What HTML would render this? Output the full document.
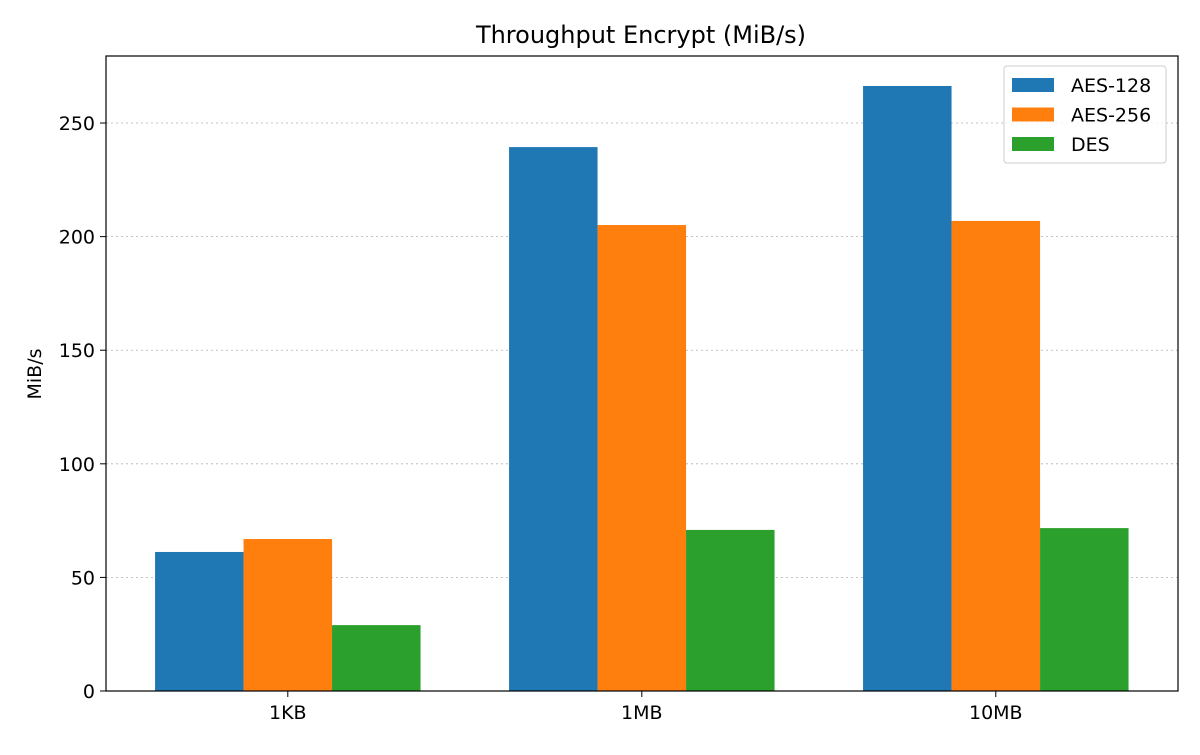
<!DOCTYPE html>
<html><head><meta charset="utf-8"><style>
body{margin:0;background:#fff;font-family:"Liberation Sans","DejaVu Sans",sans-serif}
</style></head><body>
<svg id="chart" width="1200" height="750" xmlns="http://www.w3.org/2000/svg">
<text x="641" y="43" font-size="24" text-anchor="middle" font-family="DejaVu Sans, Liberation Sans, sans-serif">Throughput Encrypt (MiB/s)</text>
<text transform="translate(41,374) rotate(-90)" font-size="19" text-anchor="middle" font-family="DejaVu Sans, Liberation Sans, sans-serif">MiB/s</text>
<g id="grid"></g><g id="bars"></g><g id="axes"></g>
</svg>
<script>
const categories=["1KB","1MB","10MB"];
const seriesNames=["AES-128","AES-256","DES"];
const aes128=[61.2,239.4,266.3];
const aes256=[66.9,205.1,206.9];
const des=[29.0,70.9,71.7];
const yTicks=[0,50,100,150,200,250];
const colors=["#1f77b4","#ff7f0e","#2ca02c"];
const series=[aes128,aes256,des];
const L=106,R=1178,T=56,B=691,yMax=279.5;
const ns="http://www.w3.org/2000/svg";
const y=v=>B-(v/yMax)*(B-T);
const step=354, x0=287.8;
const x=i=>x0+i*step;
const bw=step*0.25;
function mk(tag,attrs,parent){const e=document.createElementNS(ns,tag);for(const k in attrs)e.setAttribute(k,attrs[k]);parent.appendChild(e);return e;}
const grid=document.getElementById('grid'),bars=document.getElementById('bars'),axes=document.getElementById('axes');
yTicks.forEach(t=>{
  if(t>0){const g=mk('line',{x1:L,x2:R,y1:y(t),y2:y(t),stroke:'#b0b0b0','stroke-width':0.8,'stroke-dasharray':'2,3'},grid);
  
  }
  const tk=mk('line',{x1:L-6,x2:L,y1:y(t),y2:y(t),stroke:'#000','stroke-width':1},axes);
  
  
  const lb=mk('text',{x:L-11,y:y(t)+7,'font-size':19,'text-anchor':'end','font-family':'DejaVu Sans, Liberation Sans, sans-serif'},axes);
  lb.textContent=t;
  
  
});
series.forEach((s,si)=>{s.forEach((v,i)=>{
  const r=mk('rect',{x:x(i)+(si-1)*bw-bw/2,y:y(v),width:bw,height:B-y(v),fill:colors[si]},bars);
  
  
});});
categories.forEach((c,i)=>{
  const tk=mk('line',{x1:x(i),x2:x(i),y1:B,y2:B+6,stroke:'#000','stroke-width':1},axes);
  
  
  const lb=mk('text',{x:x(i),y:B+28,'font-size':19,'text-anchor':'middle','font-family':'DejaVu Sans, Liberation Sans, sans-serif'},axes);
  lb.textContent=c;
  
  
});
const frame=mk('rect',{x:L,y:T,width:R-L,height:B-T,fill:'none',stroke:'#000','stroke-width':1.2},axes);


const lg=mk('g',{},axes);


mk('rect',{x:1004,y:66,width:162,height:97,rx:3,fill:'#fff','fill-opacity':0.8,stroke:'#ccc'},lg);
seriesNames.forEach((n,i)=>{
  const yy=85+i*29.5;
  const sw=mk('rect',{x:1012,y:yy-7,width:42,height:14,fill:colors[i]},lg);
  
  
  const t=mk('text',{x:1071,y:yy+7,'font-size':19,'font-family':'DejaVu Sans, Liberation Sans, sans-serif'},lg);
  t.textContent=n;
  
  
});
</script>
</body></html>
